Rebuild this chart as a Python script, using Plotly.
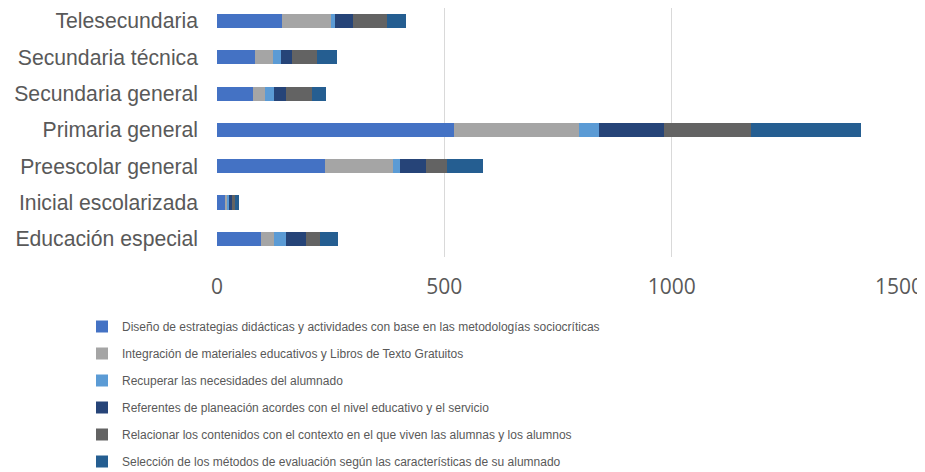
import plotly.graph_objects as go

categories = ["Educación especial", "Inicial escolarizada", "Preescolar general",
              "Primaria general", "Secundaria general", "Secundaria técnica", "Telesecundaria"]

series_names = [
    "Diseño de estrategias didácticas y actividades con base en las metodologías sociocríticas",
    "Integración de materiales educativos y Libros de Texto Gratuitos",
    "Recuperar las necesidades del alumnado",
    "Referentes de planeación acordes con el nivel educativo y el servicio",
    "Relacionar los contenidos con el contexto en el que viven las alumnas y los alumnos",
    "Selección de los métodos de evaluación según las características de su alumnado",
]

diseno = [97, 18, 238, 521, 80, 83, 144]
integracion = [28, 5, 150, 275, 26, 41, 106]
recuperar = [27, 3, 15, 44, 19, 17, 9]
referentes = [43, 8, 57, 144, 27, 24, 41]
relacionar = [31, 5, 45, 190, 56, 56, 73]
seleccion = [40, 9, 81, 242, 31, 42, 43]

series_values = [diseno, integracion, recuperar, referentes, relacionar, seleccion]
colors = ["#4472C4", "#A5A5A5", "#5B9BD5", "#264478", "#636363", "#255E91"]

x_ticks = [0, 500, 1000, 1500]

fig = go.Figure()
for i, (name, vals) in enumerate(zip(series_names, series_values)):
    fig.add_trace(go.Bar(
        y=categories, x=vals, name=name, orientation="h",
        marker=dict(color=colors[i], line=dict(width=0)),
        legendgroup=f"g{i}",
    ))

fig.update_layout(
    barmode="stack",
    bargap=0.61,
    width=925, height=472,
    margin=dict(l=209, r=34, t=0, b=223, autoexpand=False),
    paper_bgcolor="white", plot_bgcolor="white",
    font=dict(family="Liberation Sans, Arial, sans-serif", color="#595959"),
    xaxis=dict(range=[0, 1500], tickvals=x_ticks, showgrid=True, gridcolor="#D9D9D9",
               gridwidth=1, zeroline=False, showline=False, ticks="", automargin=False,
               tickfont=dict(family="Open Sans, sans-serif", size=21, color="#595959"),
               ticklabelstandoff=15),
    yaxis=dict(categoryorder="array", categoryarray=categories, range=[-0.5, 6.36],
               showgrid=False, zeroline=False, showline=False, ticks="", automargin=False,
               tickfont=dict(size=21.2, color="#595959"), ticklabelstandoff=18),
    legend=dict(xref="container", yref="container", x=74 / 925, y=1 - 304 / 472,
                xanchor="left", yanchor="top",
                traceorder="grouped", tracegroupgap=8,
                font=dict(size=12, color="#595959")),
    showlegend=True,
)

fig.write_html("out.html")
